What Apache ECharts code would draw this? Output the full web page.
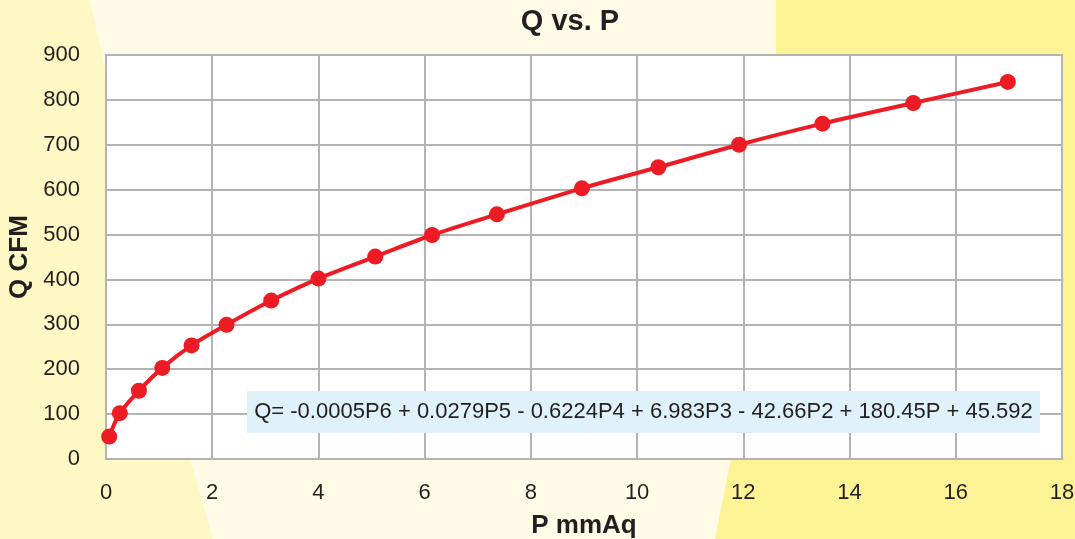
<!DOCTYPE html>
<html><head><meta charset="utf-8">
<script src="https://cdn.jsdelivr.net/npm/echarts@6/dist/echarts.min.js"></script>
<style>html,body{margin:0;padding:0;}#c{width:1075px;height:539px;}</style>
</head><body><div id="c"></div>
<script>
const titleText = 'Q vs. P';
const xName = 'P mmAq';
const yName = 'Q CFM';
const pressure = [0.06, 0.26, 0.62, 1.06, 1.61, 2.27, 3.11, 4.0, 5.07, 6.14, 7.36, 8.96, 10.4, 11.92, 13.49, 15.2, 16.98];
const flow = [50, 102, 152, 203, 253, 299, 353, 402, 451, 499, 545, 603, 650, 700, 747, 793, 840];
const equation = 'Q= -0.0005P6 + 0.0279P5 - 0.6224P4 + 6.983P3 - 42.66P2 + 180.45P + 45.592';

const chart = echarts.init(document.getElementById('c'));
const font = 'Liberation Sans, Arial, Helvetica, sans-serif';
chart.setOption({
  backgroundColor: '#fdf8c4',
  animation: false,
  graphic: [
    { type: 'polygon', z: -10, silent: true,
      shape: { points: [[90,0],[776,0],[776,55],[731,459],[715,539],[213,539],[190,459]] },
      style: { fill: '#fffbe7' } },
    { type: 'polygon', z: -10, silent: true,
      shape: { points: [[776,0],[1075,0],[1075,539],[715,539],[731,459],[776,55]] },
      style: { fill: '#fef394' } },
    { type: 'rect', z: 10, silent: true,
      shape: { x: 247, y: 391, width: 793, height: 42 },
      style: { fill: '#dff1f9' } },
    { type: 'text', z: 11, silent: true, x: 643.5, y: 412,
      style: { text: equation, fontFamily: font, fontSize: 22, fill: '#231f20', align: 'center', verticalAlign: 'middle' } }
  ],
  title: {
    text: titleText, left: 565, top: 2, textAlign: 'center',
    textStyle: { fontFamily: font, fontSize: 29, fontWeight: 'bold', color: '#231f20' }
  },
  grid: { left: 106, right: 13, top: 55, bottom: 80, outerBoundsMode: 'none', containLabel: false,
    show: true, backgroundColor: '#ffffff', borderColor: '#6d6d6d', borderWidth: 1.5 },
  xAxis: {
    type: 'value', min: 0, max: 18, interval: 2,
    name: xName, nameLocation: 'middle', nameGap: 54,
    nameTextStyle: { fontFamily: font, fontSize: 26, fontWeight: 'bold', color: '#231f20' },
    axisLine: { show: false }, axisTick: { show: false },
    axisLabel: { fontFamily: font, fontSize: 22, color: '#231f20', margin: 23 },
    splitLine: { show: true, lineStyle: { color: '#b3b3b3', width: 2 } }
  },
  yAxis: {
    type: 'value', min: 0, max: 900, interval: 100,
    name: yName, nameLocation: 'middle', nameGap: 71, nameRotate: 90,
    nameTextStyle: { fontFamily: font, fontSize: 26, fontWeight: 'bold', color: '#231f20' },
    axisLine: { show: false }, axisTick: { show: false },
    axisLabel: { fontFamily: font, fontSize: 22, color: '#231f20', margin: 26 },
    splitLine: { show: true, lineStyle: { color: '#b3b3b3', width: 2 } }
  },
  series: [{
    type: 'line', data: pressure.map((p, i) => [p, flow[i]]),
    smooth: 0.3, symbol: 'circle', symbolSize: 16,
    lineStyle: { color: '#ed1c24', width: 4 },
    itemStyle: { color: '#ed1c24' }
  }]
});
</script></body></html>
